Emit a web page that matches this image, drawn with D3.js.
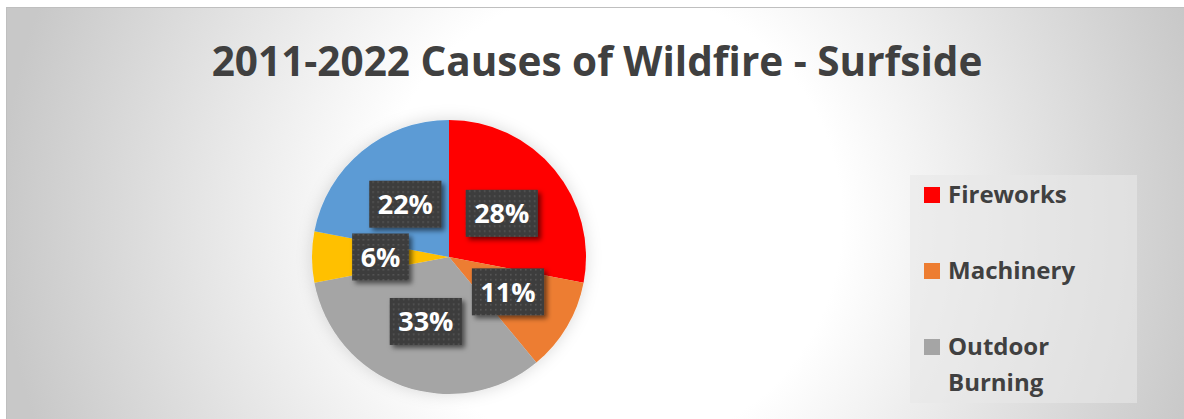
<!DOCTYPE html>
<html>
<head>
<meta charset="utf-8">
<script src="https://cdn.jsdelivr.net/npm/d3@7"></script>
<style>
  body { margin: 0; background: #fff; }
  text { font-family: "Open Sans", Lato, sans-serif; font-weight: bold; }
</style>
</head>
<body>
<script>
// Chart data
var causes = ["Fireworks", "Machinery", "Outdoor Burning", "Smoking", "Other"];
var shares = [28, 11, 33, 6, 22];
var colors = ["#ff0000", "#ed7d31", "#a5a5a5", "#ffc000", "#5b9bd5"];
var title = "2011-2022 Causes of Wildfire - Surfside";
// legend box is cut short, only the first three entries fit
var legendShown = causes.slice(0, 3);

var W = 1184, H = 419;

var svg = d3.select("body")
  .append("svg")
    .attr("width", W)
    .attr("height", H);

var defs = svg.append("defs");

// background gradient
var grad = defs.append("radialGradient")
    .attr("id", "bg")
    .attr("gradientUnits", "userSpaceOnUse")
    .attr("cx", 610).attr("cy", 220).attr("r", 610);
grad.append("stop").attr("offset", "0").attr("stop-color", "#ffffff");
grad.append("stop").attr("offset", "0.38").attr("stop-color", "#ffffff");
grad.append("stop").attr("offset", "1").attr("stop-color", "#c8c8c8");

// dotted fill for the labels
var pat = defs.append("pattern")
    .attr("id", "dots")
    .attr("patternUnits", "userSpaceOnUse")
    .attr("width", 5).attr("height", 5);
pat.append("rect").attr("width", 5).attr("height", 5).attr("fill", "#3d3d3d");
pat.append("rect").attr("x", 2).attr("y", 2).attr("width", 1.6).attr("height", 1.6).attr("fill", "#575757");

var shadow = defs.append("filter").attr("id", "shadow")
    .attr("x", "-30%").attr("y", "-30%").attr("width", "160%").attr("height", "160%");
shadow.append("feDropShadow")
    .attr("dx", 3).attr("dy", 3).attr("stdDeviation", 2.5)
    .attr("flood-color", "#000").attr("flood-opacity", 0.55);

var glow = defs.append("filter").attr("id", "glow")
    .attr("x", "-20%").attr("y", "-20%").attr("width", "140%").attr("height", "140%");
glow.append("feDropShadow")
    .attr("dx", 0).attr("dy", 0).attr("stdDeviation", 8)
    .attr("flood-color", "#000").attr("flood-opacity", 0.15);

// chart area
svg.append("rect")
    .attr("x", 6.5).attr("y", 7.5)
    .attr("width", W - 6).attr("height", H)
    .attr("fill", "url(#bg)")
    .attr("stroke", "#bfbfbf");

svg.append("text")
    .attr("x", 597).attr("y", 76)
    .attr("text-anchor", "middle")
    .attr("font-size", 40.5)
    .attr("fill", "#404040")
    .text(title);

// pie
var cx = 449, cy = 257, r = 137;
var pie = d3.pie().sort(null).value(function(d) { return d; });
var arcs = pie(shares);
var arc = d3.arc().innerRadius(0).outerRadius(r);

var g = svg.append("g").attr("transform", "translate(" + cx + "," + cy + ")");

g.append("g").attr("filter", "url(#glow)")
  .selectAll("path")
  .data(arcs)
  .enter().append("path")
    .attr("d", arc)
    .attr("fill", function(d, i) { return colors[i]; });

// data labels
var labels = g.selectAll("g.lbl")
  .data(arcs)
  .enter().append("g")
    .attr("class", "lbl")
    .attr("transform", function(d) { return "translate(" + arc.centroid(d) + ")"; });

labels.each(function(d) {
  var lg = d3.select(this);
  var box = lg.append("rect").attr("fill", "url(#dots)").attr("filter", "url(#shadow)");
  var t = lg.append("text")
      .attr("text-anchor", "middle")
      .attr("dy", "0.36em")
      .attr("font-size", 27)
      .attr("fill", "#ffffff")
      .text(d.data + "%");
  var w = t.node().getComputedTextLength() + 17;
  box.attr("x", -w / 2).attr("y", -23.5).attr("width", w).attr("height", 47);
});

// legend
var leg = svg.append("g");
leg.append("rect")
    .attr("x", 910).attr("y", 175).attr("width", 227).attr("height", 228)
    .attr("fill", "#e8e8e8").attr("fill-opacity", 0.6);

var rowY = d3.scalePoint().domain(causes).range([203, 203 + 76 * 4]);

legendShown.forEach(function(name, i) {
  var y = rowY(name);
  leg.append("rect")
      .attr("x", 924).attr("y", y - 16)
      .attr("width", 16).attr("height", 16)
      .attr("fill", colors[i]);
  var words = name.split(" ");
  var t = leg.append("text")
      .attr("x", 948).attr("y", y)
      .attr("font-size", 24)
      .attr("fill", "#404040");
  words.forEach(function(wd, j) {
    t.append("tspan").attr("x", 948).attr("dy", j ? 36 : 0).text(wd);
  });
});
</script>
</body>
</html>
